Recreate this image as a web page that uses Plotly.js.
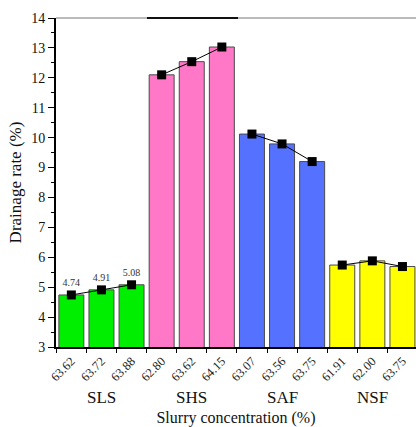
<!DOCTYPE html>
<html><head><meta charset="utf-8">
<script src="https://cdn.plot.ly/plotly-3.0.1.min.js"></script>
<style>html,body{margin:0;padding:0;background:#fff}#c{width:416px;height:427px}</style>
</head><body><div id="c"></div>
<script>
const groups = ["SLS", "SHS", "SAF", "NSF"];
const concLabels = [
  ["63.62", "63.72", "63.88"],
  ["62.80", "63.62", "64.15"],
  ["63.07", "63.56", "63.75"],
  ["61.91", "62.00", "63.75"]
];
const drainage = [
  [4.74, 4.91, 5.08],
  [12.10, 12.54, 13.03],
  [10.12, 9.79, 9.20],
  [5.74, 5.88, 5.69]
];
const barColors = ["#00ee00", "#ff78c8", "#5472ff", "#ffff00"];
const valueLabels = [["4.74", "4.91", "5.08"], null, null, null];

const traces = [];
const allCats = [];
groups.forEach((g, gi) => {
  const cats = concLabels[gi].map((c, i) => g + "|" + c + "|" + i);
  cats.forEach(c => allCats.push(c));
  traces.push({
    type: "bar", x: cats, y: drainage[gi], base: 0,
    marker: {color: barColors[gi], line: {color: "#4a4a4a", width: 1}},
    hoverinfo: "none", showlegend: false
  });
});
groups.forEach((g, gi) => {
  const cats = concLabels[gi].map((c, i) => g + "|" + c + "|" + i);
  const t = {
    type: "scatter", x: cats, y: drainage[gi],
    mode: valueLabels[gi] ? "lines+markers+text" : "lines+markers",
    line: {color: "#000", width: 1},
    marker: {symbol: "square", size: 9, color: "#000"},
    showlegend: false, hoverinfo: "none", cliponaxis: false
  };
  if (valueLabels[gi]) {
    t.text = valueLabels[gi];
    t.textposition = "top center";
    t.textfont = {family: "Liberation Serif", size: 10, color: "#333"};
  }
  traces.push(t);
});

const tickText = [];
concLabels.forEach(arr => arr.forEach(c => tickText.push(c)));

const annotations = groups.map((g, gi) => ({
  x: g + "|" + concLabels[gi][1] + "|1", xref: "x",
  y: -0.155, yref: "paper", yanchor: "middle",
  text: g, showarrow: false,
  font: {family: "Liberation Serif", size: 17, color: "#111"}
}));

const layout = {
  width: 416, height: 427,
  margin: {l: 56, r: 0, t: 18, b: 80},
  paper_bgcolor: "#fff", plot_bgcolor: "#fff",
  bargap: 0.17,
  font: {family: "Liberation Serif", color: "#111"},
  xaxis: {
    type: "category", categoryorder: "array", categoryarray: allCats,
    tickvals: allCats, ticktext: tickText,
    range: [-0.51, 11.45],
    tickangle: -45, tickfont: {size: 12.5, color: "#222"},
    tickson: "boundaries", ticks: "outside", ticklen: 4, tickwidth: 1, tickcolor: "#000",
    showline: true, linecolor: "#000", linewidth: 2,
    showgrid: false, zeroline: false,
    title: {text: "Slurry concentration (%)", font: {size: 16, color: "#111"}, standoff: 30}
  },
  yaxis: {
    range: [3, 14], dtick: 1, tick0: 3,
    ticks: "outside", ticklen: 6, tickwidth: 1, tickcolor: "#000",
    minor: {dtick: 0.5, ticks: "outside", ticklen: 3, tickcolor: "#000"},
    tickfont: {size: 14, color: "#111"},
    showline: true, linecolor: "#000", linewidth: 2,
    showgrid: false, zeroline: false,
    title: {text: "Drainage rate (%)", font: {size: 17, color: "#111"}, standoff: 5}
  },
  shapes: [
    {type: "line", xref: "paper", yref: "paper", x0: 0, x1: 1, y0: 1, y1: 1, line: {color: "#777", width: 1}},
    {type: "line", xref: "paper", yref: "paper", x0: (147 - 56) / 360, x1: (238 - 56) / 360, y0: 1, y1: 1, line: {color: "#111", width: 2}}
  ],
  annotations: annotations
};
Plotly.newPlot("c", traces, layout, {staticPlot: true, displayModeBar: false});
</script>
</body></html>
